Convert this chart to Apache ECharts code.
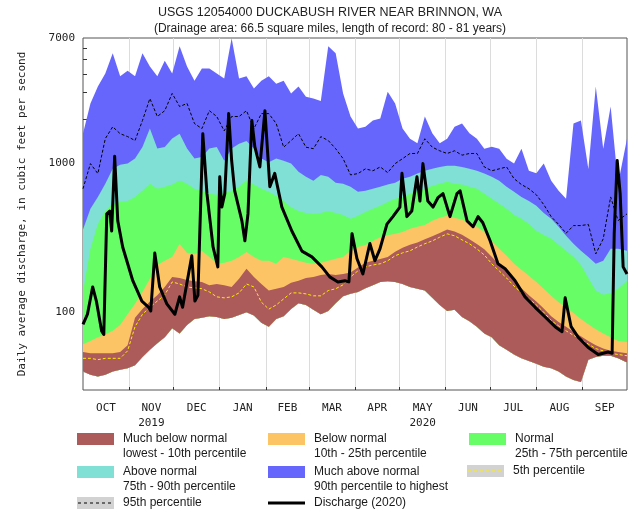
<!DOCTYPE html>
<html>
<head>
<meta charset="utf-8">
<script src="https://cdn.jsdelivr.net/npm/echarts@6/dist/echarts.min.js"></script>
<style>html,body{margin:0;padding:0;background:#fff}#chart{width:637px;height:514px}</style>
</head>
<body>
<div id="chart"></div>
<script>
// days counted from Oct 1 2019 (water year 2020, 366 days)
var monthNames = ['OCT', 'NOV', 'DEC', 'JAN', 'FEB', 'MAR', 'APR', 'MAY', 'JUN', 'JUL', 'AUG', 'SEP'];
var monthStarts = [31, 61, 92, 123, 152, 183, 213, 244, 274, 305, 336];
var monthMids = [15.5, 46, 76.5, 107.5, 137.5, 167.5, 198, 228.5, 259, 289.5, 320.5, 351];
var yearUnder = { NOV: '2019', MAY: '2020' };
var yTickValues = [40, 50, 60, 70, 80, 90, 200, 300, 400, 500, 600, 700, 800, 900, 2000, 3000, 4000, 5000, 6000];
var yLabelValues = [100, 1000, 7000];

// daily percentile statistics, read every 5 days
var sampleDays = [0, 5, 10, 15, 20, 25, 30, 35, 40, 45, 50, 55, 60, 65, 70, 75, 80, 85, 90, 95,
  100, 105, 110, 115, 120, 125, 130, 135, 140, 145, 150, 155, 160, 165, 170, 175, 180, 185, 190, 195,
  200, 205, 210, 215, 220, 225, 230, 235, 240, 245, 250, 255, 260, 265, 270, 275, 280, 285, 290, 295,
  300, 305, 310, 315, 320, 325, 330, 335, 340, 345, 350, 355, 360, 366];
var lowest = [40, 38, 37, 38, 40, 41, 42, 44, 50, 56, 62, 68, 78, 72, 82, 90, 92, 94, 93, 90,
  92, 96, 100, 95, 85, 80, 90, 94, 105, 115, 112, 104, 97, 102, 115, 128, 133, 137, 145, 152,
  160, 162, 160, 155, 148, 144, 140, 125, 112, 102, 104, 93, 87, 80, 72, 68, 60, 56, 52, 49,
  47, 45, 43, 42, 40, 37, 35, 34, 48, 50, 51, 51, 49, 46];
var p05 = [49, 49, 48, 49, 49, 49, 55, 80, 97, 108, 119, 131, 160, 155, 148, 146, 144, 137, 127, 125,
  127, 135, 155, 148, 117, 105, 112, 123, 135, 135, 133, 129, 129, 140, 144, 153, 173, 190, 202, 208,
  212, 222, 240, 251, 259, 275, 289, 302, 320, 337, 327, 307, 289, 267, 243, 212, 190, 170, 150, 135,
  123, 112, 100, 88, 81, 75, 70, 66, 61, 57, 55, 53, 52, 51];
var p10 = [54, 53, 53, 53, 53, 54, 60, 92, 105, 118, 130, 148, 173, 170, 165, 162, 160, 152, 155, 152,
  148, 168, 196, 173, 155, 140, 144, 148, 158, 163, 170, 173, 178, 181, 178, 181, 185, 200, 215, 222,
  228, 235, 255, 272, 285, 295, 310, 325, 342, 360, 350, 332, 310, 288, 265, 236, 209, 187, 162, 145,
  130, 118, 106, 94, 86, 80, 74, 69, 64, 60, 57, 55, 54, 53];
var p25 = [61, 64, 68, 71, 75, 82, 97, 114, 137, 168, 208, 222, 235, 289, 250, 246, 259, 235, 212, 215,
  222, 235, 254, 235, 222, 222, 212, 235, 229, 222, 215, 212, 215, 222, 229, 235, 259, 275, 284, 302,
  320, 330, 337, 347, 364, 376, 387, 412, 432, 446, 432, 419, 400, 376, 347, 302, 267, 240, 212, 193,
  176, 160, 144, 129, 117, 108, 99, 90, 83, 77, 72, 68, 64, 63];
var p75 = [137, 267, 393, 480, 537, 551, 560, 597, 656, 733, 678, 700, 723, 770, 733, 678, 656, 627, 617, 637,
  656, 700, 770, 723, 678, 646, 606, 560, 509, 480, 466, 459, 466, 480, 466, 452, 426, 446, 473, 497,
  520, 551, 581, 597, 627, 656, 678, 710, 733, 755, 733, 723, 700, 678, 627, 581, 537, 497, 452, 426,
  393, 354, 331, 312, 285, 259, 235, 208, 170, 140, 131, 135, 144, 163];
var p90 = [360, 497, 597, 733, 922, 981, 1000, 1082, 1292, 1721, 1262, 1292, 1473, 1590, 1262, 1082, 1110, 1262, 1292, 1047,
  1262, 1360, 1420, 1262, 1082, 1022, 1082, 1047, 1000, 882, 815, 766, 840, 815, 745, 733, 700, 646, 656, 678,
  700, 723, 745, 792, 815, 857, 895, 922, 950, 966, 966, 950, 922, 895, 857, 815, 766, 700, 646, 597,
  560, 520, 466, 426, 376, 327, 289, 259, 235, 212, 222, 267, 267, 259];
var p95 = [678, 1000, 857, 1473, 1770, 1590, 1520, 1430, 1950, 2740, 2075, 2270, 2965, 2420, 2540, 1860, 1720, 2270, 2075, 1660,
  2075, 2075, 2270, 1720, 2170, 2170, 1860, 1290, 1430, 1590, 1290, 1260, 1520, 1430, 1260, 1080, 840, 857, 922, 895,
  950, 870, 1000, 1080, 1170, 1170, 1470, 1290, 1220, 1170, 1220, 1140, 1170, 1170, 950, 895, 922, 950, 792, 723,
  678, 617, 530, 440, 390, 340, 383, 383, 390, 247, 312, 597, 414, 459];
var highest = [1593, 2540, 3300, 4045, 5520, 3870, 4210, 3870, 5520, 4500, 3870, 4930, 4045, 6150, 4500, 3610, 4370, 4370, 4045, 3740,
  6970, 3740, 3870, 3200, 3610, 3870, 3450, 3610, 2965, 3300, 2820, 2740, 2640, 6150, 5520, 2965, 2075, 1720, 1770, 1950,
  2010, 3050, 2540, 1720, 1470, 1370, 2075, 1600, 1370, 1470, 1770, 1860, 1600, 1470, 1260, 1300, 1260, 1080, 1000, 1260,
  895, 860, 1000, 766, 656, 580, 1860, 1950, 920, 3300, 1260, 2420, 733, 1470];

// 2020 daily discharge, read at turning points
var dischargeDays = [0, 3, 6.5, 9, 12.5, 14, 16, 18, 19.3, 21.3, 23.4, 26.7, 33.5, 39.6, 44.2, 45.6, 48.3, 51.6, 56.4, 61.8,
  65, 67, 73.2, 75.3, 77.3, 80.6, 83.4, 87.5, 90.7, 92, 93.4, 95.4, 98, 100, 102, 106.9, 108.9, 111, 113.6, 115.6,
  119, 122.4, 125.7, 129, 133.8, 140.5, 147.3, 154, 160.7, 166, 171.5, 176.2, 178.9, 181, 184.3, 188.3, 193, 196.4, 199.8, 204.5,
  208.5, 213.2, 214.6, 217.9, 221.2, 224.7, 226.7, 228.7, 232, 235.5, 238.8, 242.2, 246.9, 251.6, 253.7, 258.4, 262.4, 265.8, 269, 273.9,
  279.2, 284, 290.7, 297.4, 304.2, 310.9, 317.6, 322.3, 324.4, 326.4, 328.4, 333.1, 339.9, 346.6, 353.3, 356, 357.4, 359.4, 361.4, 363.4, 366];
var dischargeCfs = [83, 97, 148, 119, 75, 71, 459, 480, 352, 1120, 412, 275, 163, 119, 108, 102, 250, 148, 114, 97,
  127, 108, 240, 119, 130, 1590, 628, 275, 202, 815, 510, 628, 2170, 1050, 660, 412, 303, 459, 1950, 1300,
  950, 2270, 700, 860, 510, 352, 258, 236, 202, 173, 160, 163, 160, 338, 230, 181, 290, 222, 267, 392,
  440, 510, 860, 440, 480, 815, 560, 1000, 560, 510, 590, 628, 440, 628, 656, 412, 376, 440, 400, 303,
  212, 196, 163, 127, 108, 93, 80, 74, 125, 100, 80, 68, 58, 52, 54, 53, 338, 1050, 628, 202, 181];

var monoFont = 'DejaVu Sans Mono, monospace';
var sansFont = 'Liberation Sans, Arial, sans-serif';

function pairs(xs, ys) {
  return xs.map(function (x, i) { return [x, ys[i]]; });
}
function svgIcon(body) {
  return 'image://data:image/svg+xml;charset=utf-8,' + encodeURIComponent(
    "<svg xmlns='http://www.w3.org/2000/svg' width='37' height='12'>" + body + '</svg>');
}

// each band is filled from its upper percentile down to the lowest value;
// drawn from the top band down so the lower ones sit on top
var bands = [
  { name: 'Much above normal\n90th percentile to highest', color: '#6666fd', up: highest },
  { name: 'Above normal\n75th - 90th percentile', color: '#80e0d6', up: p90 },
  { name: 'Normal\n25th - 75th percentile', color: '#66fd66', up: p75 },
  { name: 'Below normal\n10th - 25th percentile', color: '#fdc466', up: p25 },
  { name: 'Much below normal\nlowest - 10th percentile', color: '#ac5a5a', up: p10 }
];

function bandRenderer(upper) {
  return function (params, api) {
    var pts = [];
    for (var i = 0; i < sampleDays.length; i++) pts.push(api.coord([sampleDays[i], upper[i]]));
    for (var j = sampleDays.length - 1; j >= 0; j--) pts.push(api.coord([sampleDays[j], lowest[j]]));
    return { type: 'polygon', shape: { points: pts }, style: { fill: api.visual('color') }, silent: true };
  };
}

var series = bands.map(function (b) {
  return {
    name: b.name, type: 'custom', renderItem: bandRenderer(b.up),
    data: [[sampleDays[0], lowest[0]]], clip: true, silent: true,
    itemStyle: { color: b.color }, z: 2
  };
});
series.push({
  name: '5th percentile', type: 'line', data: pairs(sampleDays, p05), symbol: 'none', silent: true,
  itemStyle: { color: '#ffee00' }, lineStyle: { color: '#ffee00', width: 1, type: [3, 2] }, z: 3
});
series.push({
  name: '95th percentile', type: 'line', data: pairs(sampleDays, p95), symbol: 'none', silent: true,
  itemStyle: { color: '#000' }, lineStyle: { color: '#000', width: 1, type: [3, 2] }, z: 3
});
series.push({
  name: 'Discharge (2020)', type: 'line', data: pairs(dischargeDays, dischargeCfs), symbol: 'none', silent: true,
  itemStyle: { color: '#000' }, lineStyle: { color: '#000', width: 3, join: 'round' }, z: 4
});

// one legend per entry so the three-column layout matches;
// two-line labels get a blank first line so the first text line sits beside the icon
function legendItem(name, left, top, icon, twoLines) {
  return {
    data: [{ name: name, icon: icon }],
    left: left, top: top, padding: 0,
    itemWidth: 37, itemHeight: 12, selectedMode: false,
    formatter: function (n) { return twoLines ? '\n' + n : n; },
    textStyle: {
      fontFamily: sansFont, fontSize: 12, color: '#1a1a1a', lineHeight: 15,
      padding: [0, 0, 0, 4]
    }
  };
}

var option = {
  animation: false,
  backgroundColor: '#fff',
  title: {
    text: 'USGS 12054000 DUCKABUSH RIVER NEAR BRINNON, WA',
    subtext: '(Drainage area: 66.5 square miles, length of record: 80 - 81 years)',
    left: 325, top: 1, textAlign: 'center', itemGap: 4,
    textStyle: { fontFamily: sansFont, fontSize: 12.5, fontWeight: 'normal', color: '#222' },
    subtextStyle: { fontFamily: sansFont, fontSize: 12, color: '#222' }
  },
  legend: [
    legendItem(bands[4].name, 77, 416.5, 'rect', true),
    legendItem(bands[3].name, 268, 416.5, 'rect', true),
    legendItem(bands[2].name, 469, 416.5, 'rect', true),
    legendItem(bands[1].name, 77, 449.5, 'rect', true),
    legendItem(bands[0].name, 268, 449.5, 'rect', true),
    legendItem('5th percentile', 467, 463.5, svgIcon(
      "<rect width='37' height='12' fill='#d2d2d2'/><line x1='1' y1='6' x2='37' y2='6' stroke='#ffee00' stroke-width='1' stroke-dasharray='3,3'/>"), false),
    legendItem('95th percentile', 77, 495.5, svgIcon(
      "<rect width='37' height='12' fill='#d2d2d2'/><line x1='1' y1='6' x2='37' y2='6' stroke='#000' stroke-width='1' stroke-dasharray='3,3'/>"), false),
    legendItem('Discharge (2020)', 268, 495.5, svgIcon(
      "<line x1='0' y1='6' x2='37' y2='6' stroke='#000' stroke-width='3'/>"), false)
  ],
  grid: { left: 83, right: 10, top: 38, bottom: 124, show: true, borderColor: '#555', borderWidth: 1 },
  xAxis: {
    type: 'value', min: 0, max: 366,
    axisLine: { show: false },
    axisTick: { show: true, inside: true, length: 3, customValues: monthStarts, lineStyle: { color: '#333' } },
    splitLine: { show: true, lineStyle: { color: '#dcdcdc', width: 1 } },
    axisLabel: {
      customValues: monthMids, margin: 11,
      fontFamily: monoFont, fontSize: 11, color: '#222', lineHeight: 15,
      formatter: function (v) {
        var m = monthNames[monthMids.indexOf(v)] || '';
        return yearUnder[m] ? m + '\n' + yearUnder[m] : m;
      }
    }
  },
  yAxis: {
    type: 'log', logBase: 10, min: 30, max: 7000,
    name: 'Daily average discharge, in cubic feet per second',
    nameLocation: 'middle', nameGap: 55,
    nameTextStyle: { fontFamily: monoFont, fontSize: 11, color: '#222' },
    axisLine: { show: false },
    axisTick: { show: true, inside: true, length: 4, customValues: yTickValues, lineStyle: { color: '#333' } },
    splitLine: { show: false },
    axisLabel: {
      customValues: yLabelValues, margin: 8,
      fontFamily: monoFont, fontSize: 11, color: '#222',
      formatter: function (v) { return String(Math.round(v)); }
    }
  },
  series: series
};

var chart = echarts.init(document.getElementById('chart'), null, { renderer: 'canvas' });
chart.setOption(option);
</script>
</body>
</html>
